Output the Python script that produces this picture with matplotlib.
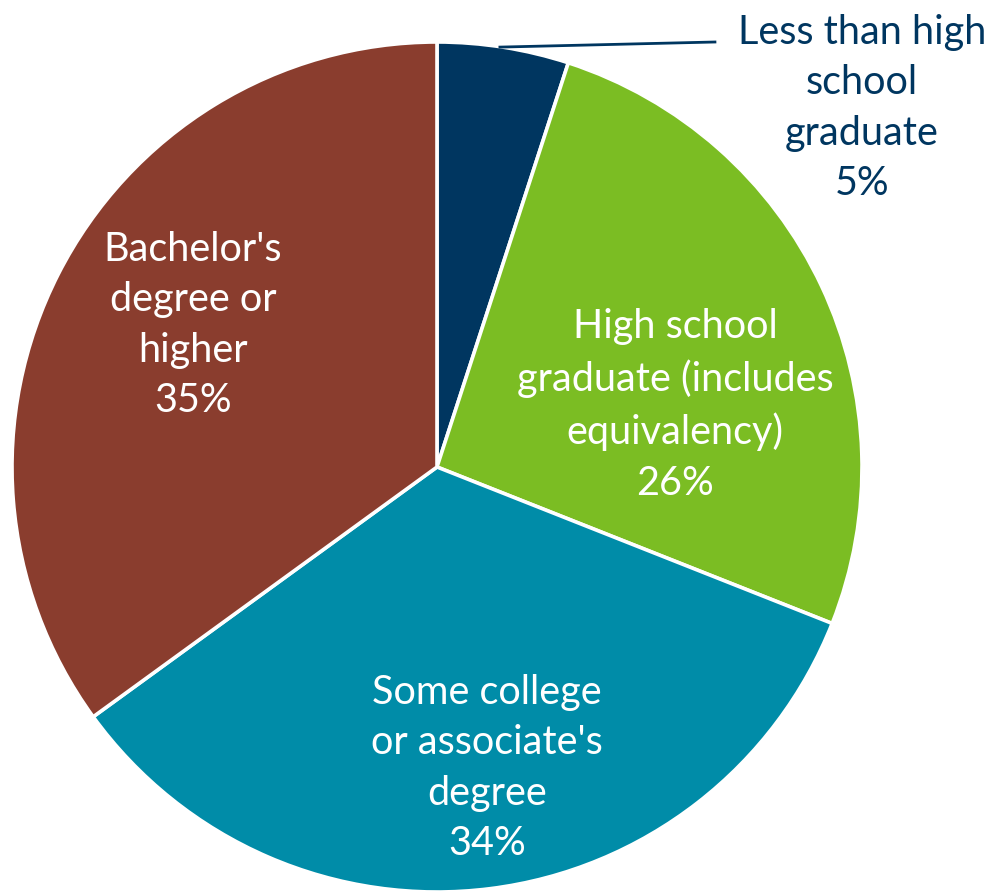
import matplotlib.pyplot as plt

plt.rcParams['font.family'] = ['Lato', 'DejaVu Sans']

labels = ["Less than high\nschool\ngraduate", "High school\ngraduate (includes\nequivalency)",
          "Some college\nor associate's\ndegree", "Bachelor's\ndegree or\nhigher"]
shares = [5, 26, 34, 35]
colors = ['#003660', '#7bbd23', '#008ca8', '#8a3d2e']
text_colors = ['#003660', 'white', 'white', 'white']
# label centres in data units (radius = 1)
label_xy = [(1.0, 0.845), (0.56, 0.146), (0.118, -0.708), (-0.574, 0.334)]

fig = plt.figure(figsize=(9.89, 8.91), dpi=100)
ax = fig.add_axes([12 / 989, -1 / 891, 850 / 989, 850 / 891])

ax.pie(shares, colors=colors, startangle=90, counterclock=False, radius=1,
       wedgeprops=dict(edgecolor='white', linewidth=2.6))

for lab, val, (x, y), tc in zip(labels, shares, label_xy, text_colors):
    ax.text(x, y, f"{lab}\n{val}%", ha='center', va='center', color=tc,
            fontsize=28.5, linespacing=1.45, clip_on=False)

# leader line for the small slice
ax.plot([0.148, 0.654], [0.988, 1.0], color='#003660', lw=2, clip_on=False)

ax.set_xlim(-1, 1)
ax.set_ylim(-1, 1)
ax.set_aspect('equal')
ax.axis('off')

fig.savefig('out.png', dpi=100)
